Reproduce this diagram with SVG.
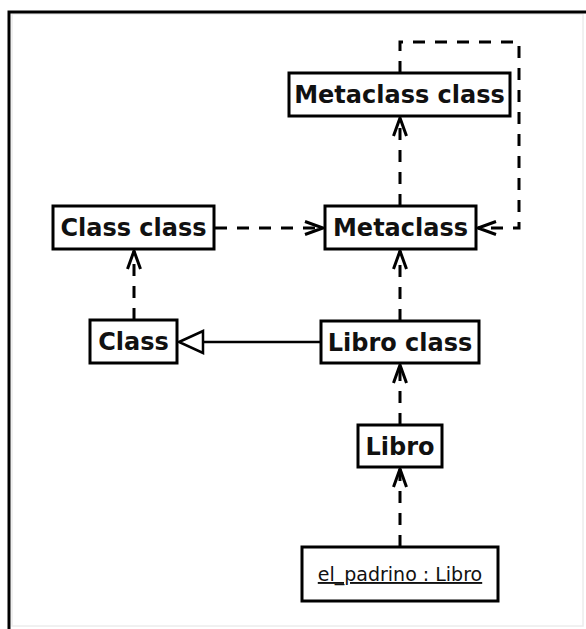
<svg xmlns="http://www.w3.org/2000/svg" width="586" height="629" viewBox="0 0 586 629">
  <defs>
    <style>
      .frame { fill: none; stroke: #000; stroke-width: 3; }
      .node rect { fill: #fff; stroke: #000; stroke-width: 3; }
      .node text { font-family: "DejaVu Sans", "Liberation Sans", sans-serif; font-weight: bold; font-size: 24px; fill: #111; text-anchor: middle; }
      .node text.obj { font-weight: normal; font-size: 19px; text-decoration: underline; }
      .dep { fill: none; stroke: #000; stroke-width: 3; stroke-dasharray: 12 10; }
      .gen { fill: none; stroke: #000; stroke-width: 2.5; }
      .head { fill: none; stroke: #000; stroke-width: 3; stroke-linejoin: miter; }
      .tri { fill: #fff; stroke: #000; stroke-width: 2.5; }
    </style>
    <!-- open arrowhead, tip at origin pointing up -->
    <path id="openUp" class="head" d="M -6.5 18 L 0 0 L 6.5 18"/>
  </defs>

  <rect width="586" height="629" fill="#fff"/>
  <!-- frame -->
  <rect x="12" y="14" width="571" height="612" fill="none" stroke="#ececec" stroke-width="1.5"/>
  <path class="frame" d="M 9 629 L 9 12 L 586 12"/>

  <!-- connectors -->
  <g id="connectors">
    <!-- Metaclass class -> Metaclass (self loop back down) -->
    <path class="dep" d="M 400 73 L 400 42 L 519 42 L 519 228 L 478 228"/>
    <use href="#openUp" transform="translate(478 228) rotate(-90)"/>
    <!-- Metaclass -> Metaclass class -->
    <path class="dep" d="M 400 206 L 400 118"/>
    <use href="#openUp" transform="translate(400 118)"/>
    <!-- Class class -> Metaclass -->
    <path class="dep" d="M 215 228 L 323 228"/>
    <use href="#openUp" transform="translate(323 228) rotate(90)"/>
    <!-- Class -> Class class -->
    <path class="dep" d="M 134 320 L 134 251"/>
    <use href="#openUp" transform="translate(134 251)"/>
    <!-- Libro class -> Metaclass -->
    <path class="dep" d="M 400 321 L 400 251"/>
    <use href="#openUp" transform="translate(400 251)"/>
    <!-- Libro -> Libro class -->
    <path class="dep" d="M 400 425 L 400 365"/>
    <use href="#openUp" transform="translate(400 365)"/>
    <!-- el_padrino -> Libro -->
    <path class="dep" d="M 400 547 L 400 469"/>
    <use href="#openUp" transform="translate(400 469)"/>
    <!-- Libro class generalizes Class -->
    <path class="gen" d="M 321 342 L 203 342"/>
    <path class="tri" d="M 179 342 L 203 331 L 203 353 Z"/>
  </g>

  <!-- nodes -->
  <g id="metaclass-class" class="node">
    <rect x="289" y="73" width="221" height="43"/>
    <text x="399.5" y="103">Metaclass class</text>
  </g>
  <g id="metaclass" class="node">
    <rect x="325" y="206" width="151" height="43"/>
    <text x="400.5" y="236">Metaclass</text>
  </g>
  <g id="class-class" class="node">
    <rect x="53" y="206" width="161" height="43"/>
    <text x="133.5" y="236">Class class</text>
  </g>
  <g id="class" class="node">
    <rect x="90" y="320" width="87" height="43"/>
    <text x="133.5" y="350">Class</text>
  </g>
  <g id="libro-class" class="node">
    <rect x="321" y="321" width="158" height="42"/>
    <text x="400" y="350.5">Libro class</text>
  </g>
  <g id="libro" class="node">
    <rect x="358" y="425" width="84" height="42"/>
    <text x="400" y="454.5">Libro</text>
  </g>
  <g id="el-padrino" class="node">
    <rect x="302" y="547" width="196" height="54"/>
    <text class="obj" x="400" y="581">el_padrino : Libro</text>
  </g>
</svg>
